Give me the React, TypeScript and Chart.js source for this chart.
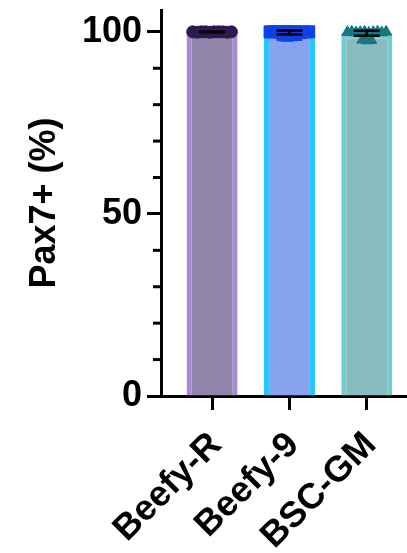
import React, { useEffect, useRef } from 'react';
import { Chart, registerables } from 'chart.js';

Chart.register(...registerables);

// ---- data ----
const categories = ['Beefy-R', 'Beefy-9', 'BSC-GM'];
const means = [100, 99.85, 99.6];
const sds = [0.08, 0.55, 0.7];
const beefyR = [100, 99.9, 100, 100, 99.9, 100, 100, 100, 99.9, 100];
const beefy9 = [100, 100, 100, 99.2, 99.1, 100, 99.2, 99.3, 100, 100, 100, 99.8, 100, 100];
const bscGM = [99.9, 100, 99.8, 99.9, 97.8, 100, 97.6, 99.7, 97.7, 99.9, 100, 99.8, 100];
const yMajorTicks = [0, 50, 100];
const yMin = 0;
const yMax = 106;
const yStep = 10;
const yTitle = 'Pax7+ (%)';

// ---- styles ----
const barFill = ['#8F85A8', '#88A3EE', '#88BCBE'];
const barEdge = ['#A68BD2', '#1EC8FF', '#72CDD2'];
const pointColors = ['#2D1950', '#1040E8', '#147880'];
const FONT = "'Liberation Sans', Arial, Helvetica, sans-serif";

// column-scatter layout: points with similar values are spread sideways
function swarm(values: number[], center: number, step: number) {
  const bins = new Map<number, number[]>();
  values.forEach((v, i) => {
    const k = Math.round(v);
    if (!bins.has(k)) bins.set(k, []);
    bins.get(k)!.push(i);
  });
  const xs: number[] = new Array(values.length);
  bins.forEach((idx) => {
    const n = idx.length;
    const s = n > 1 ? Math.min(step, 0.5 / (n - 1)) : 0;
    idx.forEach((i, j) => {
      xs[i] = center + (j - (n - 1) / 2) * s;
    });
  });
  return values.map((v, i) => ({ x: xs[i], y: v }));
}

const overlayPlugin = {
  id: 'overlay',
  afterDatasetsDraw(chart: any) {
    const { ctx, scales } = chart;
    const x = scales.x;
    const y = scales.y;
    ctx.save();
    ctx.strokeStyle = '#000';
    ctx.lineWidth = 2.5;
    const half = 13;
    means.forEach((m, i) => {
      const cx = x.getPixelForValue(i);
      const top = y.getPixelForValue(m + sds[i]);
      const bot = y.getPixelForValue(m - sds[i]);
      ctx.beginPath();
      ctx.moveTo(cx - half, top);
      ctx.lineTo(cx + half, top);
      ctx.moveTo(cx - half, bot);
      ctx.lineTo(cx + half, bot);
      ctx.moveTo(cx, top);
      ctx.lineTo(cx, bot);
      ctx.stroke();
    });
    ctx.restore();
  },
  afterDraw(chart: any) {
    const { ctx, scales, chartArea } = chart;
    const y = scales.y;
    ctx.save();
    ctx.strokeStyle = '#000';
    ctx.lineWidth = 3;
    y.ticks.forEach((t: any) => {
      if (yMajorTicks.includes(t.value)) return;
      const py = y.getPixelForValue(t.value);
      ctx.beginPath();
      ctx.moveTo(chartArea.left - 8, py);
      ctx.lineTo(chartArea.left, py);
      ctx.stroke();
    });
    ctx.restore();
  },
};

export default function App() {
  const ref = useRef<HTMLCanvasElement>(null);

  useEffect(() => {
    if (!ref.current) return;
    const groups = [beefyR, beefy9, bscGM];
    const styles = ['circle', 'rect', 'triangle'];
    const radii = [6, 8.5, 6.5];
    const chart = new Chart(ref.current, {
      type: 'bar',
      data: {
        datasets: [
          {
            type: 'bar',
            data: means.map((m, i) => ({ x: i, y: m })),
            backgroundColor: barFill,
            borderColor: barEdge,
            borderWidth: 5,
            borderSkipped: 'bottom',
            barPercentage: 0.66,
            categoryPercentage: 1,
            order: 2,
          } as any,
          ...groups.map((vals, gi) => ({
            type: 'scatter',
            data: swarm(vals, gi, 0.056),
            pointStyle: styles[gi],
            pointRadius: radii[gi],
            pointBackgroundColor: pointColors[gi],
            pointBorderColor: pointColors[gi],
            pointBorderWidth: 1,
            order: 1,
          })) as any[],
        ],
      },
      options: {
        animation: false,
        responsive: false,
        layout: { autoPadding: false, padding: { top: 10, right: 0, left: 0, bottom: 0 } },
        plugins: {
          legend: { display: false },
          tooltip: { enabled: false },
        },
        scales: {
          x: {
            type: 'linear',
            min: -0.66,
            max: 2.52,
            offset: false,
            grid: {
              offset: false,
              drawOnChartArea: false,
              drawTicks: true,
              tickLength: 14,
              tickWidth: 3,
              tickColor: '#000',
            },
            border: { display: true, color: '#000', width: 3 },
            afterBuildTicks: (scale: any) => {
              scale.ticks = categories.map((_, i) => ({ value: i }));
            },
            afterFit: (scale: any) => {
              scale.height = 157;
              scale.paddingLeft = 0;
              scale.paddingRight = 0;
            },
            ticks: {
              autoSkip: false,
              minRotation: 45,
              maxRotation: 45,
              padding: 14,
              labelOffset: 4,
              color: '#000',
              font: { family: FONT, size: 36, weight: 'bold' },
              callback: (v: any) => categories[Math.round(Number(v))] ?? '',
            },
          } as any,
          y: {
            type: 'linear',
            min: yMin,
            max: yMax,
            grid: {
              drawOnChartArea: false,
              drawTicks: true,
              tickLength: 14,
              tickWidth: 3,
              tickColor: (c: any) =>
                c.tick && yMajorTicks.includes(c.tick.value) ? '#000' : 'rgba(0,0,0,0)',
            },
            border: { display: true, color: '#000', width: 3 },
            afterFit: (scale: any) => {
              scale.width = 161;
              scale.paddingTop = 0;
              scale.paddingBottom = 0;
            },
            title: {
              display: true,
              text: yTitle,
              color: '#000',
              font: { family: FONT, size: 36, weight: 'bold', lineHeight: 1.2 },
              padding: { top: 23, bottom: 0 },
            },
            ticks: {
              stepSize: yStep,
              includeBounds: false,
              autoSkip: false,
              padding: 5,
              color: '#000',
              font: { family: FONT, size: 36, weight: 'bold' },
              callback: (v: any) => (yMajorTicks.includes(Number(v)) ? String(v) : ''),
            },
          } as any,
        },
      },
      plugins: [overlayPlugin],
    });
    return () => chart.destroy();
  }, []);

  return (
    <div style={{ position: 'absolute', left: 0, top: 0, width: 407, height: 553, background: '#fff' }}>
      <canvas ref={ref} width={407} height={553} />
    </div>
  );
}
